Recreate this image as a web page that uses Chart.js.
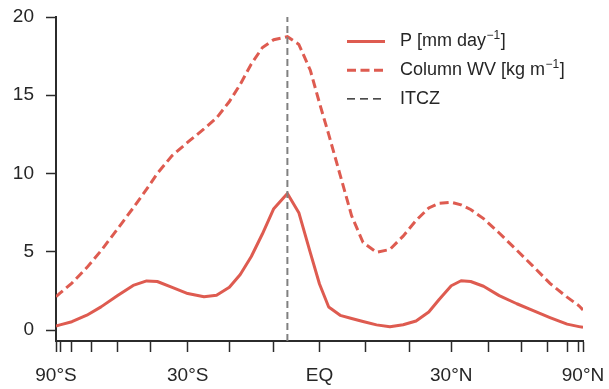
<!DOCTYPE html>
<html>
<head>
<meta charset="utf-8">
<script src="https://cdn.jsdelivr.net/npm/chart.js@4.4.1/dist/chart.umd.min.js"></script>
<style>
  html, body { margin: 0; padding: 0; background: #fff; }
</style>
</head>
<body>
<canvas id="zonalChart" width="609" height="389"></canvas>
<script>
// latitude grid in degrees, shared by both series
const latitudes = [-90, -80, -70, -62, -56, -50, -45, -41, -38, -34,
  -30, -26, -23, -20, -17.5, -15, -12.5, -10, -7, -4.5,
  -2, 0, 2, 4.5, 7, 9.5, 12.5, 15.5, 18.5, 21.5,
  24.5, 27, 30, 32.5, 35, 38.5, 43, 48.5, 54, 61,
  70, 80, 90];

// precipitation [mm/day]
const precip = [0.26, 0.33, 0.53, 0.95, 1.48, 2.2, 2.85, 3.14, 3.1, 2.73,
  2.33, 2.13, 2.22, 2.73, 3.55, 4.7, 6.15, 7.75, 8.73, 7.5,
  4.95, 2.94, 1.47, 0.94, 0.74, 0.55, 0.33, 0.21, 0.34, 0.58,
  1.15, 1.95, 2.83, 3.15, 3.1, 2.8, 2.2, 1.68, 1.25, 0.8,
  0.38, 0.22, 0.17];

// column water vapour [kg/m]
const columnWV = [2.13, 2.36, 3.0, 3.99, 5.07, 6.47, 7.8, 9.0, 10.0, 11.15,
  12.0, 12.85, 13.55, 14.6, 15.7, 17.0, 18.05, 18.55, 18.74, 18.25,
  16.6, 14.5, 12.5, 9.9, 7.3, 5.6, 4.97, 5.15, 6.0, 7.0,
  7.8, 8.1, 8.16, 8.0, 7.7, 7.12, 6.2, 5.1, 4.1, 2.98,
  2.1, 1.55, 1.28];

const itczLat = -7;

const yMin = -0.7;
const yMax = 20;
const yTicks = [0, 5, 10, 15, 20];
const xTickLats = [-90, -80, -70, -60, -50, -40, -30, -20, -10, 0, 10, 20, 30, 40, 50, 60, 70, 80, 90];
const xTickLabels = { '-90': '90°S', '-30': '30°S', '0': 'EQ', '30': '30°N', '90': '90°N' };

const lineRed = '#de5b50';
const textColor = '#262626';
const axisColor = '#2b2b2b';
const fontFamily = '"Liberation Sans", Arial, sans-serif';

// x axis is area-weighted: sin(latitude)
const sinLat = lat => Math.sin(lat * Math.PI / 180);

/**
 * Legend drawn inside the plot, top right
 */
const insetLegend = {
  id: 'insetLegend',
  afterDraw(chart) {
    const { ctx, chartArea } = chart;
    const lineX = chartArea.right - 236;
    const textX = chartArea.right - 183;
    let y = chartArea.top + 24.5;

    ctx.save();
    chart.data.datasets.forEach(ds => {
      ctx.beginPath();
      ctx.strokeStyle = ds.legendColor || ds.borderColor;
      ctx.lineWidth = ds.legendWidth || ds.borderWidth;
      ctx.setLineDash(ds.legendDash || ds.borderDash || []);
      ctx.moveTo(lineX, y);
      ctx.lineTo(lineX + 38, y);
      ctx.stroke();

      ctx.fillStyle = textColor;
      ctx.textBaseline = 'middle';
      ctx.textAlign = 'left';
      ctx.font = '18px ' + fontFamily;
      ctx.fillText(ds.label, textX, y);
      let tx = textX + ctx.measureText(ds.label).width;
      if (ds.labelSup) {
        ctx.font = '12px ' + fontFamily;
        ctx.fillText(ds.labelSup, tx + 0.5, y - 6);
        tx += ctx.measureText(ds.labelSup).width + 1;
        ctx.font = '18px ' + fontFamily;
        ctx.fillText(ds.labelTail, tx, y);
      }
      y += 28.7;
    });
    ctx.restore();
  }
};

function toPoints(values) {
  return latitudes.map((lat, i) => ({ x: sinLat(lat), y: values[i] }));
}

function initZonalChart() {
  const ctx = document.getElementById('zonalChart').getContext('2d');
  window.zonalChart = new Chart(ctx, {
    type: 'line',
    data: {
      datasets: [{
        label: 'P [mm day',
        labelSup: '−1',
        labelTail: ']',
        data: toPoints(precip),
        borderColor: lineRed,
        borderWidth: 3,
        pointRadius: 0,
        tension: 0,
        borderJoinStyle: 'round'
      }, {
        label: 'Column WV [kg m',
        labelSup: '−1',
        labelTail: ']',
        data: toPoints(columnWV),
        borderColor: lineRed,
        borderWidth: 3,
        borderDash: [9, 4.5],
        pointRadius: 0,
        tension: 0
      }, {
        label: 'ITCZ',
        data: [{ x: sinLat(itczLat), y: yMin }, { x: sinLat(itczLat), y: yMax }],
        borderColor: '#808080',
        borderWidth: 2,
        borderDash: [7, 4],
        legendColor: '#111111',
        legendWidth: 1.4,
        legendDash: [8, 5],
        pointRadius: 0,
        order: -1
      }]
    },
    options: {
      responsive: false,
      animation: false,
      devicePixelRatio: 1,
      layout: { padding: { top: 17, right: 26, left: 0, bottom: 0 } },
      plugins: {
        legend: { display: false },
        tooltip: { enabled: false }
      },
      scales: {
        x: {
          type: 'linear',
          min: -1,
          max: 1,
          afterBuildTicks: scale => {
            scale.ticks = xTickLats.map(lat => ({ value: sinLat(lat) }));
          },
          afterFit: scale => {
            scale.height = 48;
            scale.paddingLeft = 0;
            scale.paddingRight = 0;
          },
          ticks: {
            autoSkip: false,
            maxRotation: 0,
            padding: 12,
            color: textColor,
            font: { size: 19, family: fontFamily },
            callback: (value, index) => xTickLabels[String(xTickLats[index])] || ''
          },
          grid: {
            drawOnChartArea: false,
            drawTicks: true,
            tickLength: 11,
            tickWidth: 1.5,
            tickColor: axisColor
          },
          border: { display: true, color: axisColor, width: 2 }
        },
        y: {
          min: yMin,
          max: yMax,
          afterBuildTicks: scale => {
            scale.ticks = yTicks.map(v => ({ value: v }));
          },
          afterFit: scale => {
            scale.width = 56;
            scale.paddingTop = 0;
            scale.paddingBottom = 0;
          },
          ticks: {
            padding: 12,
            color: textColor,
            font: { size: 19, family: fontFamily }
          },
          grid: {
            drawOnChartArea: false,
            drawTicks: true,
            tickLength: 10,
            tickWidth: 1.5,
            tickColor: axisColor
          },
          border: { display: true, color: axisColor, width: 2 }
        }
      }
    },
    plugins: [insetLegend]
  });
}

document.addEventListener('DOMContentLoaded', initZonalChart);
</script>
</body>
</html>
